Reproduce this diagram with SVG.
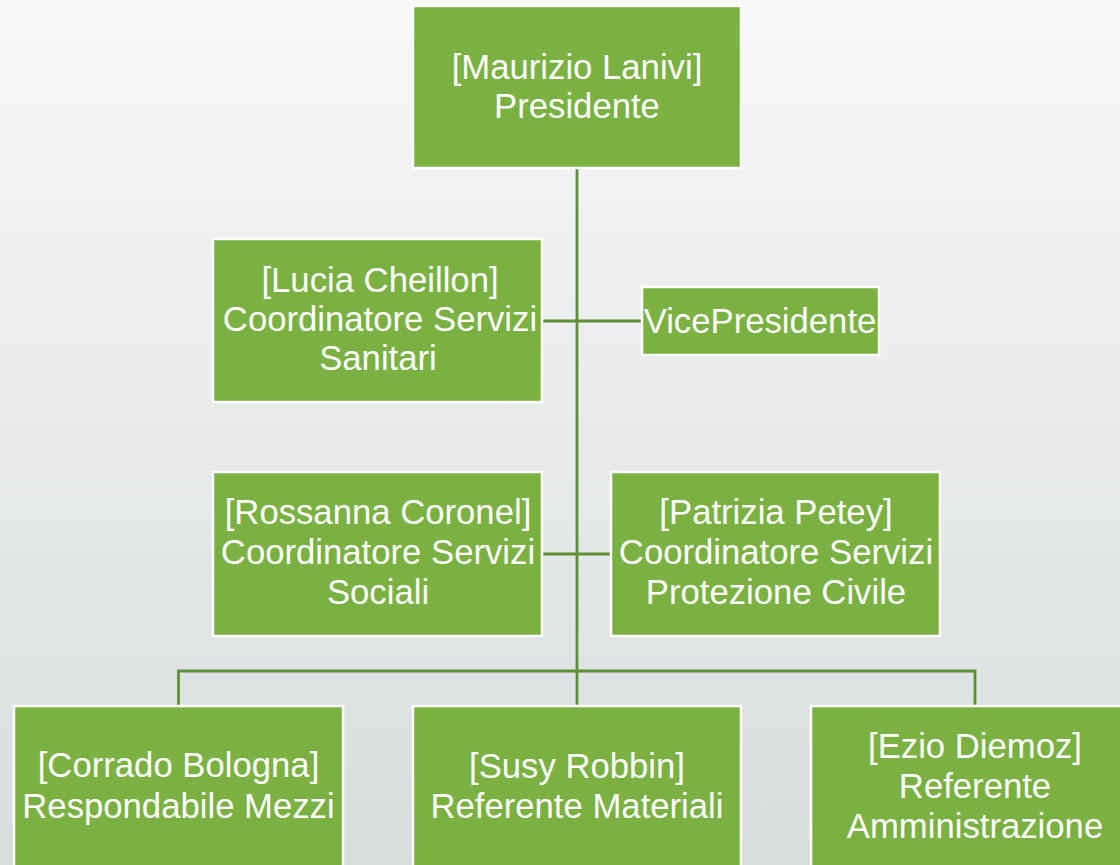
<svg xmlns="http://www.w3.org/2000/svg" width="1120" height="865" viewBox="0 0 1120 865">
<defs>
<linearGradient id="bg" x1="0" y1="0" x2="0" y2="1">
<stop offset="0" stop-color="#F7F8F8"/>
<stop offset="1" stop-color="#D9DDDE"/>
</linearGradient>
<style>
.box{fill:#7AB142;stroke:#FFFFFF;stroke-width:2.5}
.lbl{fill:#FFFFFF;font-family:"Liberation Sans",Arial,sans-serif;font-size:34.7px;text-anchor:middle}
.conn{stroke:#5E8F33;stroke-width:2.8;fill:none}
</style>
</defs>
<rect x="0" y="0" width="1120" height="865" fill="url(#bg)"/>
<g id="connectors">
<line class="conn" x1="577" y1="169" x2="577" y2="706"/>
<line class="conn" x1="542" y1="321" x2="642" y2="321"/>
<line class="conn" x1="542" y1="554" x2="611" y2="554"/>
<polyline class="conn" points="178.5,706 178.5,671 975,671 975,706"/>
</g>
<g id="node-presidente">
<rect class="box" x="413" y="6" width="328" height="162"/>
<text class="lbl" x="577" y="79">[Maurizio Lanivi]</text>
<text class="lbl" x="577" y="118">Presidente</text>
</g>
<g id="node-lucia">
<rect class="box" x="213" y="239" width="329" height="163"/>
<text class="lbl" x="380" y="292">[Lucia Cheillon]</text>
<text class="lbl" x="380" y="331">Coordinatore Servizi</text>
<text class="lbl" x="378" y="370">Sanitari</text>
</g>
<g id="node-vicepresidente">
<rect class="box" x="642" y="287" width="237" height="68"/>
<text class="lbl" x="760" y="333">VicePresidente</text>
</g>
<g id="node-rossanna">
<rect class="box" x="213" y="472" width="329" height="164"/>
<text class="lbl" x="378" y="524">[Rossanna Coronel]</text>
<text class="lbl" x="378" y="564">Coordinatore Servizi</text>
<text class="lbl" x="378" y="604">Sociali</text>
</g>
<g id="node-patrizia">
<rect class="box" x="611" y="472" width="329" height="164"/>
<text class="lbl" x="776" y="524">[Patrizia Petey]</text>
<text class="lbl" x="776" y="564">Coordinatore Servizi</text>
<text class="lbl" x="776" y="604">Protezione Civile</text>
</g>
<g id="node-corrado">
<rect class="box" x="14" y="706" width="329" height="164"/>
<text class="lbl" x="178.5" y="777">[Corrado Bologna]</text>
<text class="lbl" x="178.5" y="818">Respondabile Mezzi</text>
</g>
<g id="node-susy">
<rect class="box" x="413" y="706" width="328" height="164"/>
<text class="lbl" x="577" y="778">[Susy Robbin]</text>
<text class="lbl" x="577" y="818">Referente Materiali</text>
</g>
<g id="node-ezio">
<rect class="box" x="811" y="706" width="329" height="164"/>
<text class="lbl" x="975" y="758">[Ezio Diemoz]</text>
<text class="lbl" x="975" y="798">Referente</text>
<text class="lbl" x="975" y="838">Amministrazione</text>
</g>
</svg>
